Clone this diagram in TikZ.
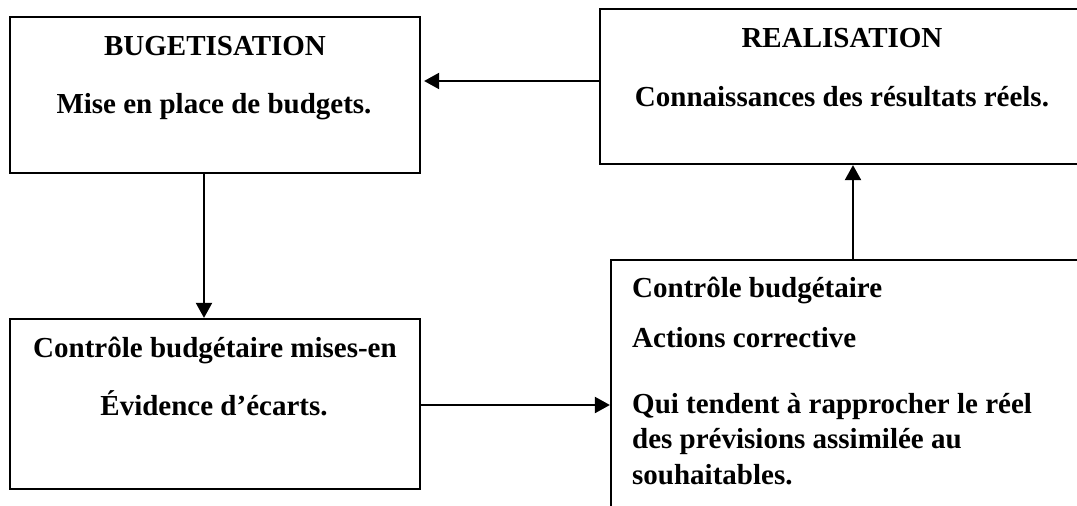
\documentclass[tikz,border=0pt]{standalone}
\usepackage{fontspec}
\setmainfont{Liberation Serif}
\usetikzlibrary{arrows.meta}
\begin{document}
\begin{tikzpicture}[x=1pt,y=-1pt,
  box/.style={draw,line width=2.2pt,rectangle,inner sep=0pt},
  lbl/.style={font=\fontsize{29}{35}\selectfont\bfseries,inner sep=0pt,anchor=base},
  lblw/.style={lbl,anchor=base west},
  arr/.style={line width=2pt,-{Triangle[length=15pt,width=16pt]}}]
\useasboundingbox (0,0) rectangle (1077,506);
\clip (0,0) rectangle (1077,506);

% boxes
\node[box,minimum width=410pt,minimum height=156pt] (b1) at (215,95) {};
\node[box,minimum width=485pt,minimum height=155pt] (b2) at (842.5,86.5) {};
\node[box,minimum width=410pt,minimum height=170pt] (b3) at (215,404) {};
\node[box,minimum width=484pt,minimum height=280pt] (b4) at (853,400) {};

% texts
\node[lbl] (t1a) at (215,55) {BUGETISATION};
\node[lbl] (t1b) at (214,113) {Mise en place de budgets.};
\node[lbl] (t2a) at (842,47) {REALISATION};
\node[lbl] (t2b) at (842,106) {Connaissances des résultats réels.};
\node[lbl] (t3a) at (215,357) {Contrôle budgétaire mises-en};
\node[lbl] (t3b) at (214,415) {Évidence d’écarts.};
\node[lblw] (t4a) at (632,297) {Contrôle budgétaire};
\node[lblw] (t4b) at (632,347) {Actions corrective};
\node[lblw] (t4c) at (632,413) {Qui tendent à rapprocher le réel};
\node[lblw] (t4d) at (632,448) {des prévisions assimilée au};
\node[lblw] (t4e) at (632,484) {souhaitables.};

% connector rows and columns
\coordinate (r1) at (0,81);
\coordinate (c1) at (204,0);
\coordinate (r2) at (0,405);
\coordinate (c2) at (853,0);

% connectors
\draw[arr,shorten >=3pt] (b2.west |- r1) -- (b1.east |- r1);
\draw[arr] (c1 |- b1.south) -- (c1 |- b3.north);
\draw[arr] (b3.east |- r2) -- (b4.west |- r2);
\draw[arr] (c2 |- b4.north) -- (c2 |- b2.south);
\end{tikzpicture}
\end{document}
